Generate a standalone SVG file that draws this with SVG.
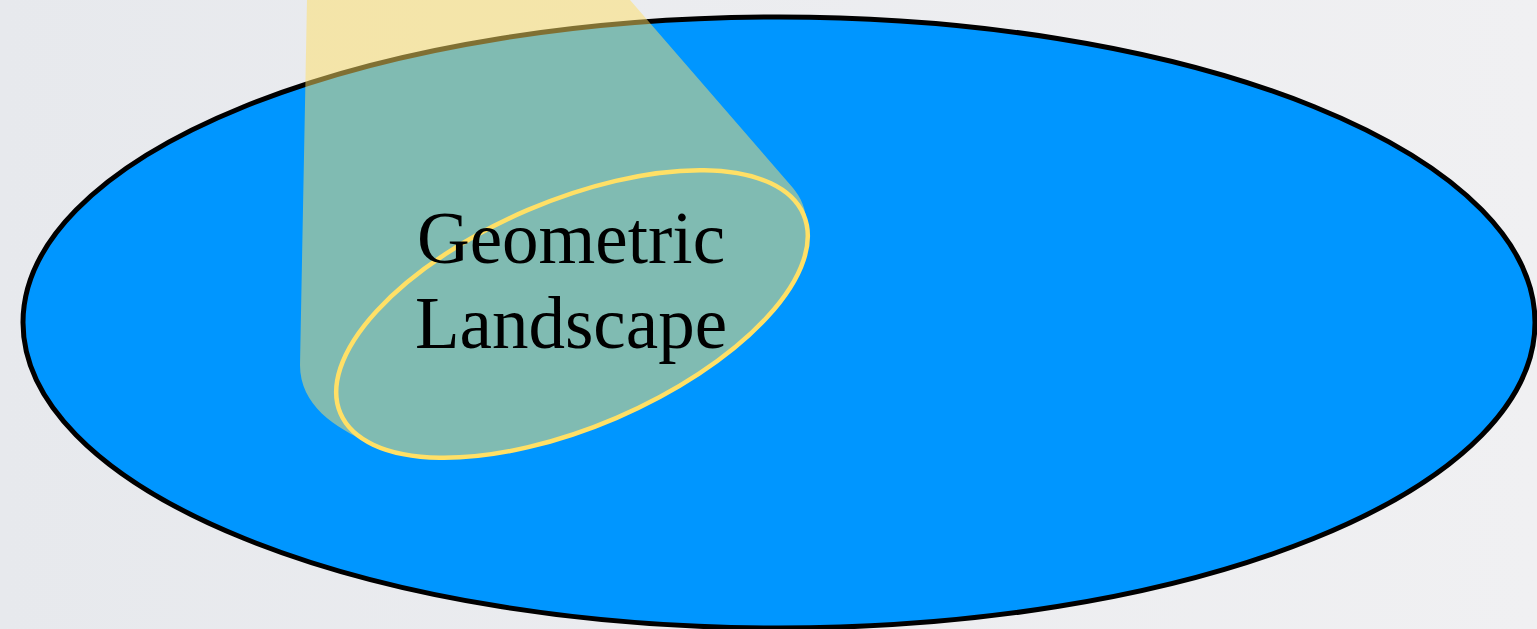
<svg xmlns="http://www.w3.org/2000/svg" width="1537" height="629" viewBox="0 0 1537 629">
  <defs>
    <linearGradient id="bg" x1="0" y1="0" x2="1" y2="0">
      <stop offset="0" stop-color="#E7E9ED"/>
      <stop offset="1" stop-color="#F0F0F2"/>
    </linearGradient>
    <style>
      .outer { fill: #0096FF; stroke: #000000; stroke-width: 5; }
      .beam { fill: #FFE067; }
      .inner { fill: none; stroke: #FFE066; stroke-width: 4.5; }
      .label { font-family: "Liberation Serif", "DejaVu Serif", serif; font-size: 73px; fill: #000000; text-anchor: middle; }
    </style>
  </defs>
  <rect x="0" y="0" width="1537" height="629" fill="url(#bg)"/>
  <g id="space">
    <ellipse class="outer" cx="779" cy="322.5" rx="756" ry="305.5"/>
  </g>
  <g id="spotlight" opacity="0.5">
    <path class="beam" d="M307,0 L630,0 L793,188 C802,199 808,212 806,232 L572,314 L370,443 C335,428 300,405 300,365 Z"/>
    <ellipse class="beam" cx="572" cy="314" rx="252" ry="113" transform="rotate(-23.25 572 314)"/>
  </g>
  <g id="geometric-landscape">
    <ellipse class="inner" cx="572" cy="314" rx="252" ry="113" transform="rotate(-23.25 572 314)"/>
    <text class="label" x="571" y="263">Geometric</text>
    <text class="label" x="571" y="348">Landscape</text>
  </g>
</svg>
